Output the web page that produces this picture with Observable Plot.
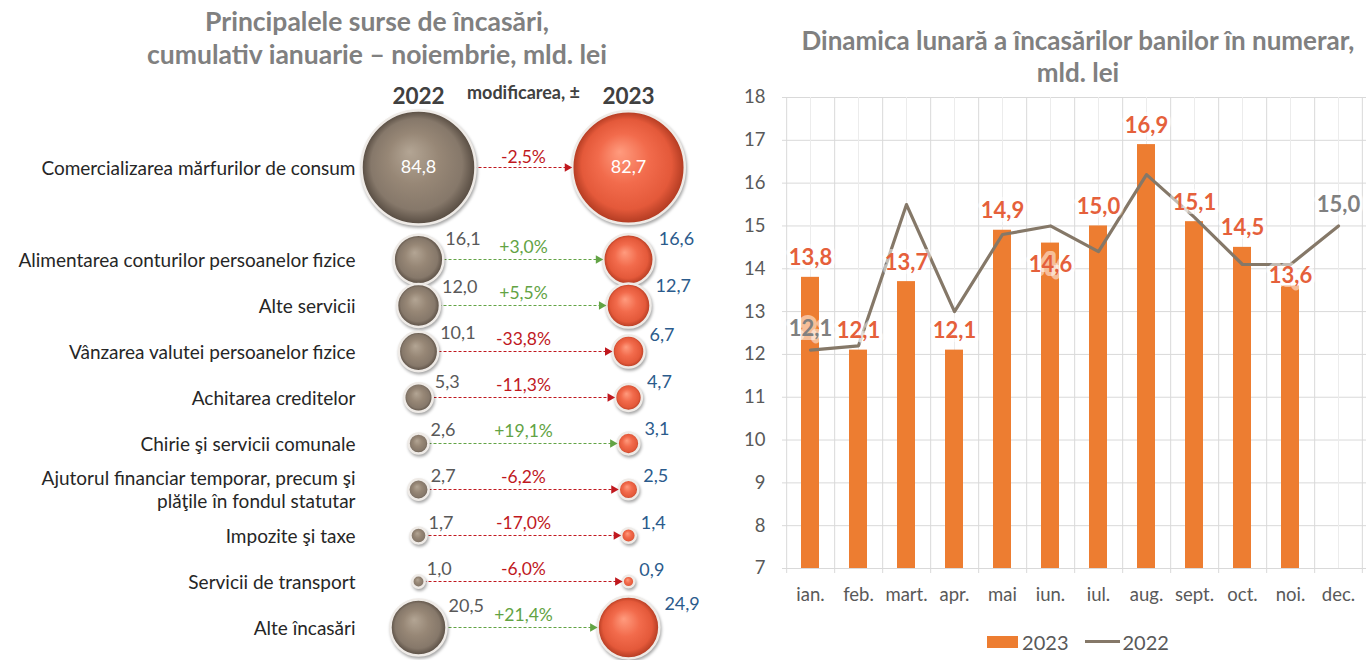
<!DOCTYPE html>
<html>
<head>
<meta charset="utf-8">
<script src="https://cdn.jsdelivr.net/npm/d3@7"></script>
<script src="https://cdn.jsdelivr.net/npm/@observablehq/plot@0.6"></script>
<style>
  body { margin: 0; background: #fff; font-family: Lato, sans-serif; }
  #wrap { position: relative; width: 1366px; height: 660px; overflow: hidden; background: #fff; }
  #left { position: absolute; left: 0; top: 0; width: 702px; height: 660px; }
  #right { position: absolute; left: 702px; top: 0; width: 664px; height: 660px; }
  .title { font-weight: 700; color: #808080; text-align: center; white-space: nowrap; overflow: visible; position: relative; z-index: 1; }
  #left .title { font-size: 26.5px; line-height: 33px; padding-top: 5px; height: 66px; margin-left: 52px; width: 650px; }
  #right .title { font-size: 26px; line-height: 32px; padding-top: 24px; height: 52px; margin-left: 88px; width: 576px; }
  svg { display: block; }
  .legend { margin-left: 88px; width: 576px; height: 37px; display: flex; justify-content: center; align-items: center; font-size: 20px; color: #595959; }
  .sw-bar { display: inline-block; width: 31px; height: 12px; background: #ED7D31; margin-right: 4px; }
  .sw-line { display: inline-block; width: 35px; height: 3px; background: #857868; margin: 0 3px 0 16px; }
</style>
</head>
<body>
<div id="wrap">
  <div id="left">
    <div class="title">Principalele surse de încasări,<br>cumulativ ianuarie – noiembrie, mld. lei</div>
    <div id="leftChart"></div>
  </div>
  <div id="right">
    <div class="title">Dinamica lunară a încasărilor banilor în numerar,<br>mld. lei</div>
    <div id="rightChart"></div>
    <div class="legend"><span class="sw-bar"></span><span>2023</span><span class="sw-line"></span><span>2022</span></div>
  </div>
</div>
<script>
// ---------- DATA ----------
const categories = [
  "Comercializarea mărfurilor de consum",
  "Alimentarea conturilor persoanelor fizice",
  "Alte servicii",
  "Vânzarea valutei persoanelor fizice",
  "Achitarea creditelor",
  "Chirie şi servicii comunale",
  "Ajutorul financiar temporar, precum şi\nplăţile în fondul statutar",
  "Impozite şi taxe",
  "Servicii de transport",
  "Alte încasări"
];
const values2022 = [84.8, 16.1, 12.0, 10.1, 5.3, 2.6, 2.7, 1.7, 1.0, 20.5];
const values2023 = [82.7, 16.6, 12.7, 6.7, 4.7, 3.1, 2.5, 1.4, 0.9, 24.9];
const changePct = [-2.5, 3.0, 5.5, -33.8, -11.3, 19.1, -6.2, -17.0, -6.0, 21.4];
const columnKeys = ["2022", "Δ", "2023"];
const columnLabels = ["2022", "modificarea, ±", "2023"];

const months = ["ian.", "feb.", "mart.", "apr.", "mai", "iun.", "iul.", "aug.", "sept.", "oct.", "noi.", "dec."];
const monthly2023 = [13.8, 12.1, 13.7, 12.1, 14.9, 14.6, 15.0, 16.9, 15.1, 14.5, 13.6, null];
const monthly2022 = [12.1, 12.2, 15.5, 13.0, 14.8, 15.0, 14.4, 16.2, 15.2, 14.1, 14.1, 15.0];
const yTicks = [7, 8, 9, 10, 11, 12, 13, 14, 15, 16, 17, 18];

// ---------- HELPERS ----------
const fmt = v => v.toFixed(1).replace(".", ",");
const fmtPct = v => (v > 0 ? "+" : "-") + fmt(Math.abs(v)) + "%";
const GREEN = "#62A344", RED = "#C0181E";
const FONT = "Lato, sans-serif";

// ---------- LEFT: bubble comparison ----------
const rows = categories.map((c, i) => ({cat: c, v22: values2022[i], v23: values2023[i], pct: changePct[i]}));
const yDomain = [categories[0], " ", ...categories.slice(1)];
const maxV = d3.max([...values2022, ...values2023]);
const R_MAX = 57;
const rS = d3.scaleSqrt().domain([0, maxV]).range([0, R_MAX]);

const perRow = rows.flatMap(d => {
  const r22 = rS(d.v22), r23 = rS(d.v23), big = r22 > 40;
  const col = d.pct >= 0 ? GREEN : RED;
  const ms = [
    Plot.dot([d], {x: () => "2023", y: "cat", symbol: "triangle", r: 3.2, rotate: 90, fill: col, dx: -(r23 + 5)}),
    Plot.text([d], {x: () => "Δ", y: "cat", text: r => fmtPct(r.pct), fill: col, dy: big ? -10 : -12, fontSize: 17.5})
  ];
  if (big) {
    ms.push(Plot.text([d], {x: () => "2022", y: "cat", text: r => fmt(r.v22), fill: "white", fontSize: 18}));
    ms.push(Plot.text([d], {x: () => "2023", y: "cat", text: r => fmt(r.v23), fill: "white", fontSize: 18}));
  } else {
    ms.push(Plot.text([d], {x: () => "2022", y: "cat", text: r => fmt(r.v22), fill: "#595959", fontSize: 18,
      textAnchor: "start", dx: r22 + 2, dy: -(r22 * 0.45 + 9)}));
    ms.push(Plot.text([d], {x: () => "2023", y: "cat", text: r => fmt(r.v23), fill: "#2B5B8C", fontSize: 18,
      textAnchor: "start", dx: r23 + 5, dy: -(r23 * 0.45 + 9)}));
  }
  return ms;
});

const leftPlot = Plot.plot({
  width: 702, height: 589,
  marginLeft: 417, marginRight: 74, marginTop: 92, marginBottom: 30,
  style: {fontFamily: FONT, fontSize: "19px", color: "#262626", background: "transparent"},
  x: {type: "point", domain: columnKeys, padding: 0, axis: null},
  y: {type: "point", domain: yDomain, padding: 0},
  r: {type: "sqrt", domain: [0, maxV], range: [0, R_MAX]},
  marks: [
    Plot.axisY({tickSize: 0, tickPadding: 62, fontSize: 19, lineHeight: 1.2, label: null, color: "#262626"}),
    Plot.link(rows, {x1: () => "2022", x2: () => "2023", y1: "cat", y2: "cat",
      stroke: d => d.pct >= 0 ? GREEN : RED, strokeDasharray: "3,2", strokeWidth: 1.2}),
    Plot.dot(rows, {x: () => "2022", y: "cat", r: "v22", fill: "url(#g22)", stroke: "#efebe7", strokeWidth: 2.5}),
    Plot.dot(rows, {x: () => "2023", y: "cat", r: "v23", fill: "url(#g23)", stroke: "#efebe7", strokeWidth: 2.5}),
    ...perRow,
    Plot.text(columnKeys.filter(k => k !== "Δ"), {x: d => d, text: d => columnLabels[columnKeys.indexOf(d)],
      frameAnchor: "top", dy: -75, fontSize: 22.5, fontWeight: "bold", fill: "#404040"}),
    Plot.text(["Δ"], {x: d => d, text: d => columnLabels[columnKeys.indexOf(d)],
      frameAnchor: "top", dy: -77, fontSize: 18, fontWeight: "bold", fill: "#404040"})
  ]
});
document.getElementById("leftChart").appendChild(leftPlot);

// gradients & shadows for bubbles
(function () {
  const svg = d3.select(leftPlot);
  const defs = svg.insert("defs", ":first-child");
  function grad(id, stops) {
    const g = defs.append("radialGradient").attr("id", id)
      .attr("cx", "50%").attr("cy", "50%").attr("r", "50%").attr("fx", "42%").attr("fy", "36%");
    stops.forEach(([o, c]) => g.append("stop").attr("offset", o).attr("stop-color", c));
  }
  grad("g22", [["0%", "#b3a594"], ["45%", "#978776"], ["80%", "#86786a"], ["100%", "#564b41"]]);
  grad("g23", [["0%", "#ff9b7e"], ["45%", "#f26b4c"], ["80%", "#e4593a"], ["100%", "#b03a21"]]);
  svg.selectAll("circle").style("filter", "drop-shadow(1px 2px 1.5px rgba(0,0,0,0.35))");
})();

// ---------- RIGHT: monthly bars + line ----------
const mData = months.map((m, i) => ({m, v23: monthly2023[i], v22: monthly2022[i]}));
const W2 = 664, ML = 80, MR = 0, H2 = 547, MT = 21, MB = 55;
const bw = (W2 - ML - MR) / months.length;
const barData = mData.filter(d => d.v23 != null);
const gapOf = d => d.v22 - d.v23;   // distance from bar top up to the 2022 line
const labInside = barData.filter(d => gapOf(d) > 0.3 && gapOf(d) <= 0.45);
const labSqueezed = barData.filter(d => gapOf(d) > 0.45 && gapOf(d) < 0.9);
const labAbove = barData.filter(d => !labInside.includes(d) && !labSqueezed.includes(d));
const lineLabels = [mData[0], mData[mData.length - 1]];
const ORANGE_TXT = "#E5603B";
const labStyle = {x: "m", y: "v23", text: d => fmt(d.v23), fill: ORANGE_TXT,
  fontWeight: "bold", fontSize: 22, stroke: "white", strokeOpacity: 0.5, strokeWidth: 8};

const rightPlot = Plot.plot({
  width: W2, height: H2,
  marginLeft: ML, marginRight: MR, marginTop: MT, marginBottom: MB,
  style: {fontFamily: FONT, fontSize: "18.5px", color: "#595959", background: "transparent"},
  x: {type: "band", domain: months, padding: 0},
  y: {domain: [7, 18]},
  marks: [
    Plot.gridY(yTicks, {stroke: "#d9d9d9", strokeOpacity: 1}),
    Plot.ruleX(months, {x: d => d, stroke: "#ececec"}),
    Plot.ruleX(months, {x: d => d, dx: -bw / 2 + 0.5, stroke: "#d9d9d9", insetBottom: -5}),
    Plot.ruleX([months[months.length - 1]], {x: d => d, dx: bw / 2 - 0.5, stroke: "#d9d9d9", insetBottom: -5}),
    Plot.barY(barData, {x: "m", y1: () => 7, y2: "v23", fill: "#ED7D31", insetLeft: 15, insetRight: 15}),
    Plot.line(mData, {x: "m", y: "v22", stroke: "#857868", strokeWidth: 3.2}),
    Plot.text(labAbove, {...labStyle, dy: -19}),
    Plot.text(labSqueezed, {...labStyle, dy: -10}),
    Plot.text(labInside, {...labStyle, dy: 22}),
    Plot.text(lineLabels, {x: "m", y: "v22", text: d => fmt(d.v22), dy: -21, fill: "#808080",
      fontWeight: "bold", fontSize: 22, stroke: "white", strokeOpacity: 0.5, strokeWidth: 8}),
    Plot.axisY(yTicks, {tickSize: 0, tickPadding: 17, label: null, fontSize: 18.5}),
    Plot.axisX({tickSize: 0, tickPadding: 19, label: null, fontSize: 18.5})
  ]
});
document.getElementById("rightChart").appendChild(rightPlot);
</script>
</body>
</html>
